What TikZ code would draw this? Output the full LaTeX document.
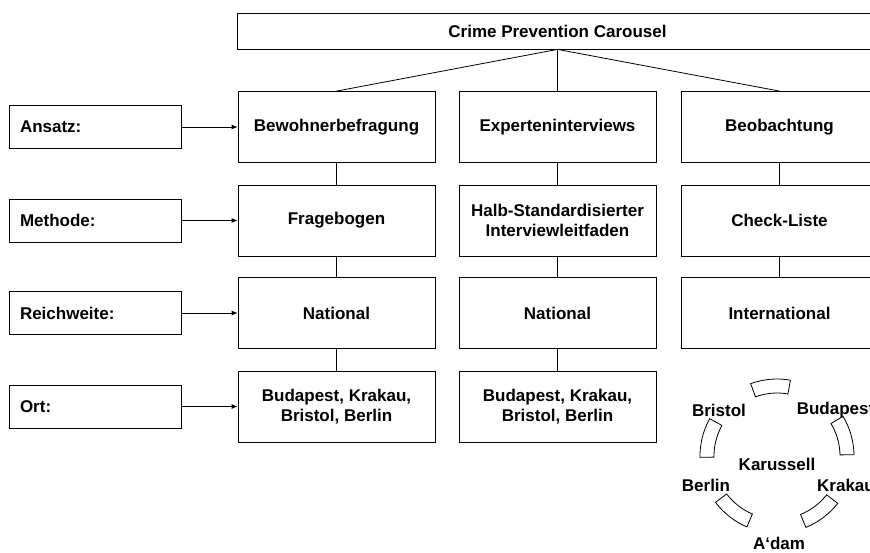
\documentclass[tikz,border=0pt]{standalone}
\usepackage{fontspec}
\setmainfont{Liberation Sans}
\usetikzlibrary{arrows.meta}
\begin{document}
\begin{tikzpicture}[x=1pt,y=-1pt,
  every node/.style={font=\fontsize{17}{20.5}\selectfont\bfseries},
  ln/.style={line width=0.8pt},
  box/.style={draw, ln, minimum width=197pt, minimum height=71pt, align=center, inner sep=2pt},
  catbox/.style={draw, ln, text width=150pt, inner xsep=11pt, minimum height=43pt, align=left},
  titlebox/.style={draw, ln, minimum width=641pt, minimum height=36pt},
  plain/.style={inner sep=1pt},
  feed/.style={ln, -{Latex[length=6pt,width=5pt]}},
  link/.style={ln}]
\useasboundingbox (0,0) rectangle (870,552);
\clip (0,0) rectangle (870,552);

% title
\node[titlebox] (top) at (557.5,31) {Crime Prevention Carousel};

% category labels
\node[catbox] (ansatz)  at (95,127)   {Ansatz:};
\node[catbox] (methode) at (95,220.5) {Methode:};
\node[catbox] (reich)   at (95,313)   {Reichweite:};
\node[catbox] (ort)     at (95,406.5) {Ort:};

% column 1
\node[box] (a1) at (336.5,127)   {Bewohnerbefragung};
\node[box] (m1) at (336.5,220.5) {Fragebogen};
\node[box] (r1) at (336.5,313)   {National};
\node[box] (o1) at (336.5,406.5) {Budapest, Krakau,\\Bristol, Berlin};

% column 2
\node[box] (a2) at (557.5,127)   {Experteninterviews};
\node[box] (m2) at (557.5,220.5) {Halb-Standardisierter\\Interviewleitfaden};
\node[box] (r2) at (557.5,313)   {National};
\node[box] (o2) at (557.5,406.5) {Budapest, Krakau,\\Bristol, Berlin};

% column 3
\node[box] (a3) at (779.5,127)   {Beobachtung};
\node[box] (m3) at (779.5,220.5) {Check-Liste};
\node[box] (r3) at (779.5,313)   {International};

% title to columns
\draw[link] (top.south) -- (a1.north);
\draw[link] (top.south) -- (a2.north);
\draw[link] (top.south) -- (a3.north);

% column chains
\draw[link] (a1) -- (m1);
\draw[link] (m1) -- (r1);
\draw[link] (r1) -- (o1);
\draw[link] (a2) -- (m2);
\draw[link] (m2) -- (r2);
\draw[link] (r2) -- (o2);
\draw[link] (a3) -- (m3);
\draw[link] (m3) -- (r3);

% category arrows
\draw[feed] (ansatz.east)  -- (a1.west);
\draw[feed] (methode.east) -- (m1.west);
\draw[feed] (reich.east)   -- (r1.west);
\draw[feed] (ort.east)     -- (o1.west);

% carousel ring segments
\begin{scope}[shift={(777,456)}]
  \foreach \a in {95,16,-53,-128,166}
    \draw[ln] (\a-15:63pt) arc[start angle=\a-15, end angle=\a+15, radius=63pt]
      -- (\a+15:77pt) arc[start angle=\a+15, end angle=\a-15, radius=77pt] -- cycle;
\end{scope}

% carousel labels
\node[plain] (kar) at (777,464)   {Karussell};
\node[plain] (bri) at (719,410)   {Bristol};
\node[plain] (bud) at (835.5,410) {Budapest};
\node[plain] (ber) at (706,485)   {Berlin};
\node[plain] (kra) at (846,485)   {Krakau};
\node[plain] (ams) at (779,543.5) {A‘dam};
\end{tikzpicture}
\end{document}
